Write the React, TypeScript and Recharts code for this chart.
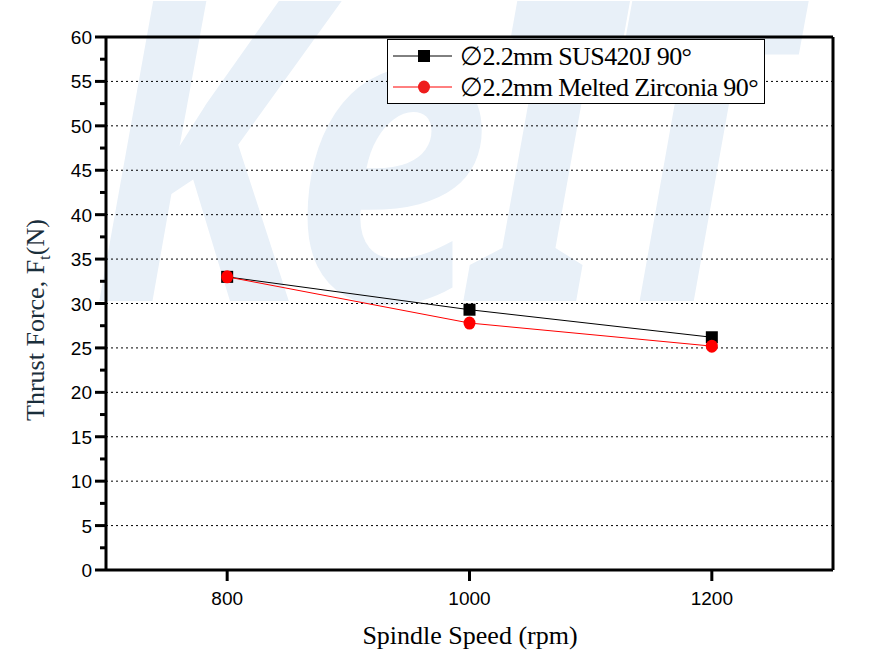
import { Line, LineChart, ReferenceLine, XAxis, YAxis } from 'recharts'

const speeds = [800, 1000, 1200]
const sus420j = [33.0, 29.3, 26.2]
const zirconia = [33.0, 27.8, 25.2]

const xTicks = [800, 1000, 1200]
const yTicks = [0, 2.5, 5, 7.5, 10, 12.5, 15, 17.5, 20, 22.5, 25, 27.5, 30, 32.5, 35, 37.5, 40, 42.5, 45, 47.5, 50, 52.5, 55, 57.5, 60]
const gridValues = [5, 10, 15, 20, 25, 30, 35, 40, 45, 50, 55]

const seriesNames = ['\u22052.2mm SUS420J 90\u00b0', '\u22052.2mm Melted Zirconia 90\u00b0']

const data = speeds.map((s, i) => ({ speed: s, sus: sus420j[i], zr: zirconia[i] }))

const serif = '"Liberation Serif", "Times New Roman", serif'
const sans = '"Liberation Sans", Arial, sans-serif'

function YTick({ x, y, payload }: any) {
  const major = payload.value % 5 === 0
  return (
    <g>
      <line x1={x - (major ? 11 : 6)} x2={x} y1={y} y2={y} stroke="#000" strokeWidth={3} />
      {major && (
        <text x={x - 14} y={y} dy={7} textAnchor="end" fontFamily={sans} fontSize={19} fill="#000">
          {payload.value}
        </text>
      )}
    </g>
  )
}

function XTick({ x, y, payload }: any) {
  return (
    <g>
      <line x1={x} x2={x} y1={y} y2={y + 11} stroke="#000" strokeWidth={3} />
      <text x={x} y={y + 35} textAnchor="middle" fontFamily={sans} fontSize={19} fill="#000">
        {payload.value}
      </text>
    </g>
  )
}

function SquareDot({ cx, cy }: any) {
  return <rect x={cx - 6} y={cy - 6} width={12} height={12} fill="#000" />
}

function CircleDot({ cx, cy }: any) {
  return <ellipse cx={cx} cy={cy} rx={6} ry={6.5} fill="#ff0000" />
}

function LegendBox() {
  return (
    <div
      style={{
        position: 'absolute',
        left: 387,
        top: 39,
        width: 376,
        height: 63,
        border: '1.5px solid #000',
        background: '#fff',
        fontFamily: serif,
        fontSize: 26,
        color: '#000',
      }}
    >
      {seriesNames.map((name, i) => (
        <div key={i} style={{ display: 'flex', alignItems: 'center', height: 32, marginTop: i === 0 ? 0 : -1 }}>
          <svg width={72} height={20} style={{ flexShrink: 0 }}>
            <line x1={5} x2={64} y1={10} y2={10} stroke={i === 0 ? '#000' : '#ff0000'} strokeWidth={1} />
            {i === 0 ? (
              <rect x={30} y={4} width={12} height={12} fill="#000" />
            ) : (
              <ellipse cx={36} cy={10} rx={6} ry={6.5} fill="#ee1c1c" />
            )}
          </svg>
          <span style={{ letterSpacing: -0.6, whiteSpace: 'nowrap' }}>{name}</span>
        </div>
      ))}
    </div>
  )
}

export default function App() {
  return (
    <div style={{ position: 'absolute', left: 0, top: 0, width: 872, height: 662, background: '#fff', overflow: 'hidden' }}>
      <div
        style={{
          position: 'absolute',
          left: 90,
          top: -72,
          fontFamily: '"Noto Sans", sans-serif',
          fontWeight: 700,
          fontStyle: 'italic',
          fontSize: 420,
          letterSpacing: -20,
          color: '#e8f0f8',
          lineHeight: 1,
          whiteSpace: 'nowrap',
          transform: 'scaleX(0.85)',
          transformOrigin: 'left top',
        }}
      >
        KeIT
      </div>
      <div style={{ position: 'absolute', left: 0, top: 0 }}>
        <LineChart width={872} height={662} data={data} margin={{ top: 37, right: 39, bottom: 0, left: 0 }}>
          {gridValues.map((v) => (
            <ReferenceLine key={v} y={v} stroke="#000" strokeWidth={1} strokeDasharray="2 3" />
          ))}
          <ReferenceLine y={60} stroke="#000" strokeWidth={3} />
          <ReferenceLine x={1300} stroke="#000" strokeWidth={3} />
          <XAxis
            type="number"
            dataKey="speed"
            domain={[700, 1300]}
            ticks={xTicks}
            tick={<XTick />}
            tickLine={false}
            tickSize={0}
            tickMargin={0}
            axisLine={{ stroke: '#000', strokeWidth: 3 }}
            height={92}
            allowDataOverflow
          />
          <YAxis
            type="number"
            domain={[0, 60]}
            ticks={yTicks}
            interval={0}
            tick={<YTick />}
            tickLine={false}
            tickSize={0}
            tickMargin={0}
            axisLine={{ stroke: '#000', strokeWidth: 3 }}
            width={106}
            allowDataOverflow
          />
          <Line
            dataKey="sus"
            stroke="#000"
            strokeWidth={1}
            dot={<SquareDot />}
            activeDot={false}
            isAnimationActive={false}
          />
          <Line
            dataKey="zr"
            stroke="#ff0000"
            strokeWidth={1}
            dot={<CircleDot />}
            activeDot={false}
            isAnimationActive={false}
          />
        </LineChart>
      </div>
      <LegendBox />
      <div
        style={{
          position: 'absolute',
          left: 0,
          top: 636,
          width: 940,
          textAlign: 'center',
          fontFamily: serif,
          fontSize: 26,
          color: '#000',
          lineHeight: 1,
          transform: 'translateY(-50%)',
        }}
      >
        Spindle Speed (rpm)
      </div>
      <div
        style={{
          position: 'absolute',
          left: 38,
          top: 320,
          fontFamily: serif,
          fontSize: 26,
          color: '#1a2e3b',
          lineHeight: 1,
          whiteSpace: 'nowrap',
          transform: 'translate(-50%, -50%) rotate(-90deg)',
        }}
      >
        Thrust Force, F<sub style={{ fontSize: 17 }}>t</sub>(N)
      </div>
    </div>
  )
}
